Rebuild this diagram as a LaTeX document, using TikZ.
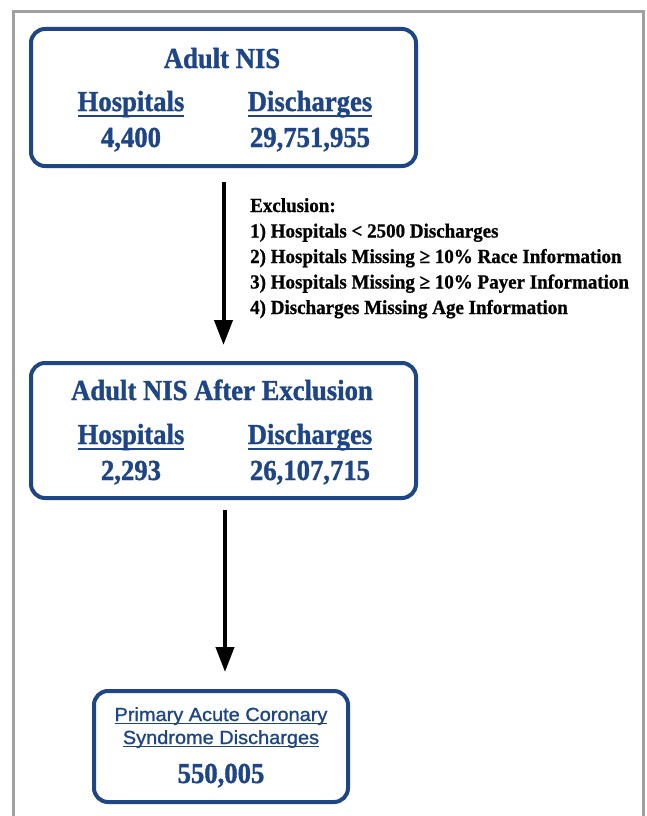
\documentclass[tikz,border=0pt]{standalone}
\usepackage{fontspec}
\setmainfont{Liberation Serif}
\newfontfamily\boxfont[FakeStretch=0.92,FakeBold=1.2]{Liberation Serif}
\newfontfamily\exfont[FakeStretch=0.95,FakeBold=0.8]{Liberation Serif}
\newfontfamily\sansfnt[FakeStretch=1.05,FakeBold=1.2]{Liberation Sans}
\usetikzlibrary{arrows.meta}
\definecolor{navy}{RGB}{30,70,135}
\definecolor{framegray}{RGB}{160,160,160}
\newcommand\myul[3]{\setbox0=\hbox{#3}\rlap{\raisebox{-#1}{\rule{\wd0}{#2}}}\box0}
\tikzset{
  flowbox/.style={draw=navy, line width=4pt, rounded corners=14pt, inner sep=0pt},
  boxtitle/.style={text=navy, font=\boxfont\bfseries\fontsize{29}{29}\selectfont, anchor=base, inner sep=0pt},
  sanstext/.style={text=navy, font=\sansfnt\fontsize{19}{19}\selectfont, anchor=base, inner sep=0pt},
  exline/.style={text=black, font=\exfont\bfseries\fontsize{20}{20}\selectfont, anchor=base west, inner sep=0pt},
  flowarrow/.style={line width=4pt, -{Triangle[width=18pt,length=25pt]}}
}
\begin{document}
\begin{tikzpicture}[x=1pt,y=1pt]
\useasboundingbox (0,0) rectangle (647,-816);
\fill[white] (0,0) rectangle (647,-816);
% outer frame
\draw[framegray, line width=3pt] (13,-830) |- (643,-12) -- (643,-830);

% box 1
\node[flowbox, minimum width=385pt, minimum height=137pt] (b1) at (223.5,-97.5) {};
\node[boxtitle] (t1) at (222,-68) {Adult NIS};
\node[boxtitle] (h1) at (131,-111) {\myul{5.5pt}{2pt}{Hospitals}};
\node[boxtitle] (d1) at (310,-111) {\myul{5.5pt}{2pt}{Discharges}};
\node[boxtitle] (hn1) at (131,-147) {4,400};
\node[boxtitle] (dn1) at (310,-147) {29,751,955};

% exclusion text
\node[exline] (e0) at (250,-212) {Exclusion:};
\node[exline] (e1) at (250,-237.5) {1) Hospitals < 2500 Discharges};
\node[exline] (e2) at (250,-263) {2) Hospitals Missing ≥ 10\% Race Information};
\node[exline] (e3) at (250,-288.5) {3) Hospitals Missing ≥ 10\% Payer Information};
\node[exline] (e4) at (250,-314) {4) Discharges Missing Age Information};

% box 2
\node[flowbox, minimum width=385pt, minimum height=135pt] (b2) at (223.5,-430.5) {};
\node[boxtitle] (t2) at (222,-400) {Adult NIS After Exclusion};
\node[boxtitle] (h2) at (131,-444) {\myul{5.5pt}{2pt}{Hospitals}};
\node[boxtitle] (d2) at (310,-444) {\myul{5.5pt}{2pt}{Discharges}};
\node[boxtitle] (hn2) at (131,-480) {2,293};
\node[boxtitle] (dn2) at (310,-480) {26,107,715};

% box 3
\node[flowbox, minimum width=254pt, minimum height=111pt] (b3) at (221,-746.5) {};
\node[sanstext] (s1) at (221,-721) {\myul{3pt}{1.5pt}{Primary Acute Coronary}};
\node[sanstext] (s2) at (221,-744) {\myul{3pt}{1.5pt}{Syndrome Discharges}};
\node[boxtitle] (n3) at (221,-783) {550,005};

% arrows
\draw[flowarrow, shorten <=14pt, shorten >=16pt] (b1.south) -- (b2.north);
\coordinate (a2s) at ([xshift=1.5pt]b2.south);
\draw[flowarrow, shorten <=10pt, shorten >=17pt] (a2s) -- (a2s |- b3.north);
\end{tikzpicture}
\end{document}
